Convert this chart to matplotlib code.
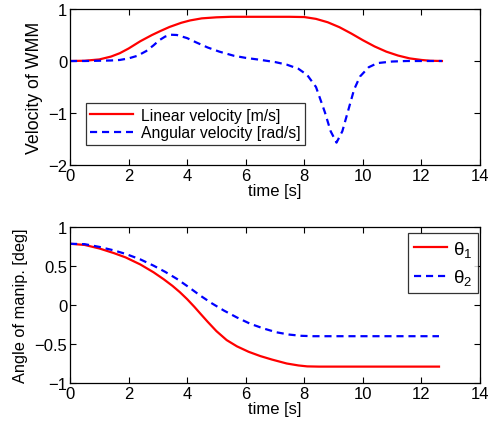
import numpy as np
import matplotlib.pyplot as plt

plt.rcParams['font.family'] = ['Liberation Sans', 'DejaVu Sans']
plt.rcParams['mathtext.fontset'] = 'custom'
plt.rcParams['mathtext.rm'] = 'Liberation Sans'
plt.rcParams['mathtext.it'] = 'Liberation Sans'

# velocities of the WMM
t_lin = [0, 0.5, 1.0, 1.4, 1.7, 2.0, 2.4, 2.8, 3.1, 3.4, 3.8, 4.1, 4.5, 5.0, 5.5, 6.0, 7.0, 7.5, 8.0,
         8.4, 8.8, 9.2, 9.6, 10.0, 10.4, 10.8, 11.2, 11.6, 12.0, 12.3, 12.7]
v_lin = [0, 0.005, 0.03, 0.085, 0.15, 0.24, 0.38, 0.50, 0.58, 0.655, 0.735, 0.78, 0.82, 0.84, 0.85, 0.85, 0.85, 0.85, 0.845,
         0.81, 0.745, 0.65, 0.53, 0.40, 0.28, 0.18, 0.105, 0.05, 0.02, 0.005, 0]

t_ang = [0, 0.5, 1.0, 1.4, 1.7, 2.0, 2.3, 2.6, 2.85, 3.05, 3.25, 3.45, 3.65, 4.0, 4.3, 4.7, 5.1, 5.6, 6.0, 6.4, 7.0, 7.4,
         7.8, 8.1, 8.4, 8.7, 8.9, 9.1, 9.3, 9.5, 9.7, 9.9, 10.2, 10.5, 11.0, 11.5, 12.0, 12.7]
v_ang = [0, 0, 0.005, 0.01, 0.02, 0.05, 0.10, 0.19, 0.30, 0.40, 0.47, 0.505, 0.50, 0.44, 0.36, 0.26, 0.18, 0.10, 0.06, 0.03, -0.02, -0.07,
         -0.15, -0.27, -0.50, -0.98, -1.35, -1.57, -1.35, -0.95, -0.55, -0.30, -0.12, -0.04, -0.01, 0, 0, 0]

# manipulator angles
t_th = [0, 0.5, 1.0, 1.5, 1.9, 2.4, 2.85, 3.2, 3.5, 3.75, 4.0, 4.25, 4.45, 4.7, 5.0, 5.35, 5.7, 6.1, 6.5,
        6.9, 7.4, 7.8, 8.1, 8.5, 9.0, 10.0, 11.0, 12.0, 12.6]
th1 = [0.785, 0.77, 0.725, 0.665, 0.61, 0.52, 0.42, 0.33, 0.245, 0.165, 0.075, -0.025, -0.11, -0.215, -0.335, -0.45, -0.53, -0.60, -0.655,
       -0.70, -0.75, -0.775, -0.787, -0.79, -0.79, -0.79, -0.79, -0.79, -0.79]

t_th2 = [0, 0.5, 1.0, 1.5, 1.9, 2.4, 2.85, 3.25, 3.65, 4.05, 4.45, 4.85, 5.25, 5.7, 6.15, 6.6, 7.05, 7.5,
         7.9, 8.3, 9.0, 10.0, 11.0, 12.0, 12.6]
th2 = [0.785, 0.78, 0.745, 0.70, 0.655, 0.585, 0.505, 0.425, 0.335, 0.23, 0.12, 0.02, -0.07, -0.16, -0.24, -0.30, -0.35, -0.38,
       -0.395, -0.40, -0.40, -0.40, -0.40, -0.40, -0.40]

fig = plt.figure(figsize=(4.94, 4.27), dpi=100)
ax1 = fig.add_axes([70 / 494, 1 - 166 / 427, 410 / 494, 156 / 427])
ax2 = fig.add_axes([70 / 494, 1 - 384 / 427, 410 / 494, 156 / 427])

dash = (0, (3.2, 2.2))

ax1.plot(t_lin, v_lin, color='red', lw=1.6, label='Linear velocity [m/s]')
ax1.plot(t_ang, v_ang, color='blue', lw=1.6, linestyle=dash, label='Angular velocity [rad/s]')
ax1.set_xlim(0, 14)
ax1.set_ylim(-2, 1)
ax1.set_yticks([-2, -1, 0, 1])
ax1.set_yticklabels(['\u22122', '\u22121', '0', '1'])
ax1.set_xlabel('time [s]', fontsize=12, labelpad=0)
ax1.set_ylabel('Velocity of WMM', fontsize=12.8, labelpad=4)
leg1 = ax1.legend(loc='lower left', bbox_to_anchor=(0.038, 0.13), fontsize=11.3,
                  fancybox=False, edgecolor='black', handlelength=2.7,
                  borderpad=0.3, labelspacing=0.15, borderaxespad=0, handletextpad=0.5)
leg1.get_frame().set_linewidth(0.9)

ax2.plot(t_th, th1, color='red', lw=1.6, label=r'$\theta_1$')
ax2.plot(t_th2, th2, color='blue', lw=1.6, linestyle=dash, label=r'$\theta_2$')
ax2.set_xlim(0, 14)
ax2.set_ylim(-1, 1)
ax2.set_yticks([-1, -0.5, 0, 0.5, 1])
ax2.set_yticklabels(['\u22121', '\u22120.5', '0', '0.5', '1'])
ax2.set_xlabel('time [s]', fontsize=12, labelpad=0)
ax2.set_ylabel('Angle of manip. [deg]', fontsize=11.8, labelpad=5)
leg2 = ax2.legend(loc='upper right', bbox_to_anchor=(0.995, 0.96), fontsize=13.5,
                  fancybox=False, edgecolor='black', handlelength=1.8,
                  borderpad=0.3, labelspacing=0.45, borderaxespad=0, handletextpad=0.3)
leg2.get_frame().set_linewidth(0.9)

for ax in (ax1, ax2):
    ax.set_xticks(range(0, 15, 2))
    ax.tick_params(direction='in', top=True, right=True, labelsize=12, length=4, width=0.8, pad=2)
    for s in ax.spines.values():
        s.set_linewidth(0.9)

fig.savefig('out.png', dpi=100)
